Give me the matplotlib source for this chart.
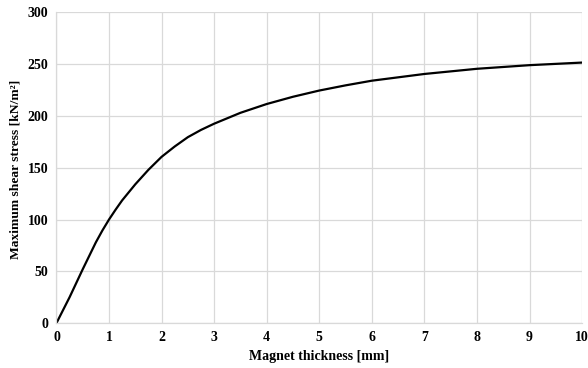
import matplotlib
matplotlib.use("Agg")
import matplotlib.pyplot as plt

# magnet thickness [mm] vs maximum shear stress [kN/m2]
thickness = [0, 0.25, 0.5, 0.75, 0.875, 1.0, 1.125, 1.25, 1.5, 1.75, 2.0, 2.25,
             2.5, 2.75, 3.0, 3.5, 4.0, 4.5, 5.0, 5.5, 6.0, 7.0, 8.0, 9.0, 10.0]
stress = [0, 25, 52, 78, 89.5, 100, 109.5, 118.5, 134, 148, 160.5, 170.5,
          179.5, 186.5, 192.5, 203, 211.5, 218.5, 224.5, 229.5, 234, 240.5,
          245.5, 249, 251.5]

x_ticks = list(range(0, 11))
y_ticks = [0, 50, 100, 150, 200, 250, 300]

plt.rcParams['font.family'] = ['Liberation Serif', 'DejaVu Serif']
plt.rcParams['font.weight'] = 'bold'

fig = plt.figure(figsize=(5.88, 3.68), dpi=100)
ax = fig.add_axes([0.096, 0.122, 0.894, 0.8445])

ax.plot(thickness, stress, color='black', linewidth=1.6,
        solid_capstyle='round', solid_joinstyle='round')

ax.set_xlim(0, 10)
ax.set_ylim(0, 300)
ax.set_xticks(x_ticks)
ax.set_yticks(y_ticks)
ax.tick_params(length=0, labelsize=10, pad=6)
for lbl in ax.get_xticklabels() + ax.get_yticklabels():
    lbl.set_fontweight('bold')

ax.grid(True, color='#d9d9d9', linewidth=0.9)
ax.set_axisbelow(True)
for side in ['top', 'right']:
    ax.spines[side].set_visible(False)
for side in ['left', 'bottom']:
    ax.spines[side].set_color('#d9d9d9')
    ax.spines[side].set_linewidth(0.9)

ax.set_xlabel("Magnet thickness [mm]", fontsize=10, fontweight='bold', labelpad=4)
ax.set_ylabel("Maximum shear stress [kN/m²]", fontsize=9.7, fontweight='bold')
ax.yaxis.set_label_coords(-0.066, 0.496)

fig.savefig("out.png", dpi=100)
